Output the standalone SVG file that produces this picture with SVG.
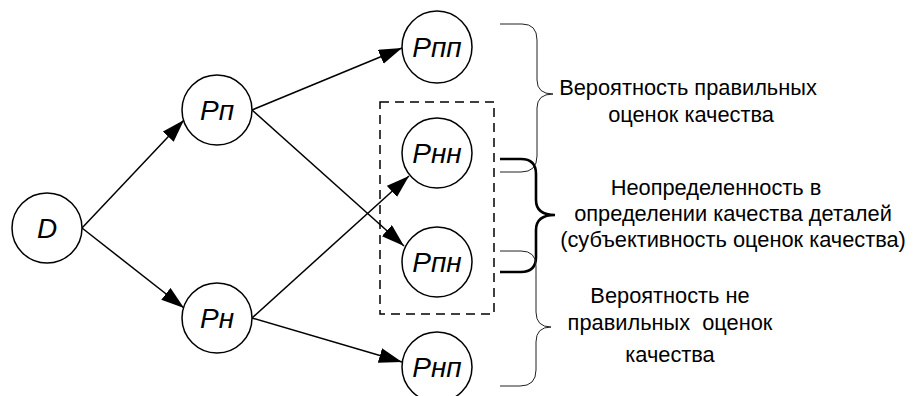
<svg xmlns="http://www.w3.org/2000/svg" width="913" height="396" viewBox="0 0 913 396">
  <defs>
    <marker id="arrow" markerUnits="userSpaceOnUse" markerWidth="26" markerHeight="16" refX="23" refY="7.5" orient="auto">
      <path d="M0,0 L23,7.5 L0,15 z" fill="#000"/>
    </marker>
    <style>
      .node circle, .node ellipse { fill: #fff; stroke: #000; stroke-width: 1.5; }
      .node text { font-family: "Liberation Sans", Arial, sans-serif; font-style: italic; font-size: 28px; text-anchor: middle; fill: #000; }
      .edge { stroke: #000; stroke-width: 1.5; fill: none; marker-end: url(#arrow); }
      .brace { fill: none; stroke: #222; stroke-width: 1; }
      .brace.bold { stroke: #000; stroke-width: 2.6; }
      .label { font-family: "Liberation Sans", Arial, sans-serif; font-size: 21.8px; text-anchor: middle; fill: #000; }
      .group { fill: none; stroke: #000; stroke-width: 1.5; stroke-dasharray: 9 6; }
    </style>
  </defs>

  <!-- dashed frame around the uncertain outcomes -->
  <rect class="group" x="380" y="102" width="114" height="212"/>

  <g id="connectors">
    <line class="edge" x1="82" y1="228" x2="184" y2="120"/>
    <line class="edge" x1="82" y1="228" x2="184" y2="308"/>
    <line class="edge" x1="252" y1="110" x2="402" y2="48"/>
    <line class="edge" x1="252" y1="110" x2="404" y2="246"/>
    <line class="edge" x1="252" y1="318" x2="409" y2="176"/>
    <line class="edge" x1="252" y1="318" x2="402" y2="362"/>
  </g>

  <g id="node-D" class="node">
    <circle cx="47" cy="228" r="35"/>
    <text x="47" y="238">D</text>
  </g>
  <g id="node-Pp" class="node">
    <circle cx="217" cy="110" r="35"/>
    <text x="217" y="120">Pп</text>
  </g>
  <g id="node-Pn" class="node">
    <circle cx="217" cy="318" r="35"/>
    <text x="217" y="328">Pн</text>
  </g>
  <g id="node-Ppp" class="node">
    <ellipse cx="437" cy="47" rx="35" ry="36"/>
    <text x="437" y="57">Pпп</text>
  </g>
  <g id="node-Pnn" class="node">
    <circle cx="437" cy="153" r="35"/>
    <text x="437" y="163">Pнн</text>
  </g>
  <g id="node-Ppn" class="node">
    <circle cx="437" cy="262" r="35"/>
    <text x="437" y="272">Pпн</text>
  </g>
  <g id="node-Pnp" class="node">
    <circle cx="437" cy="367" r="35"/>
    <text x="437" y="377">Pнп</text>
  </g>

  <g id="braces">
    <path class="brace" d="M500,24 L522,24 Q537,24 537,40 L537,80 Q537,94 553,94 Q537,94 537,108 L537,156 Q537,172 521,172 L500,172"/>
    <path class="brace bold" d="M500,159 L521,159 Q536,159 536,174 L536,200 Q536,215 555,215 Q536,215 536,230 L536,257 Q536,272 521,272 L500,272"/>
    <path class="brace" d="M500,251 L521,251 Q536,251 536,266 L536,312 Q536,327 551,327 Q536,327 536,342 L536,370 Q536,386 520,386 L500,386"/>
  </g>

  <g id="labels">
    <text class="label" x="688" y="95">Вероятность правильных</text>
    <text class="label" x="691" y="122">оценок качества</text>
    <text class="label" x="716" y="195">Неопределенность в</text>
    <text class="label" x="733" y="221">определении качества деталей</text>
    <text class="label" x="733" y="247">(субъективность оценок качества)</text>
    <text class="label" x="670" y="303">Вероятность не</text>
    <text class="label" x="670" y="330" xml:space="preserve">правильных  оценок</text>
    <text class="label" x="670" y="362">качества</text>
  </g>
</svg>
